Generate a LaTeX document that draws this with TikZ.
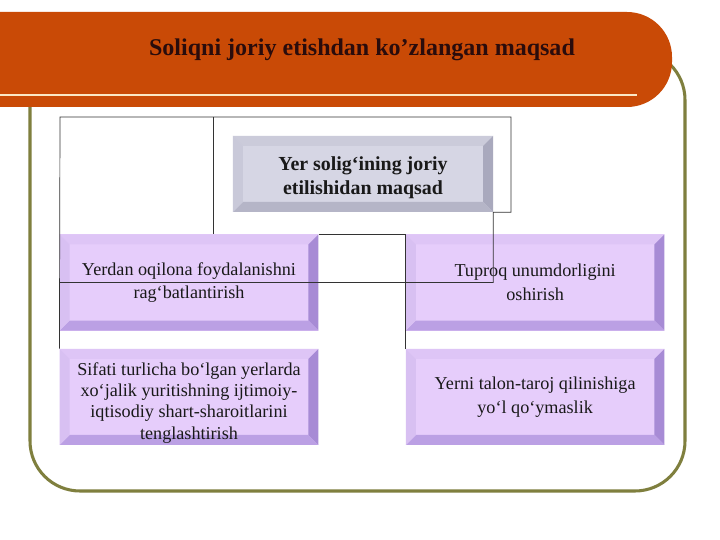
\documentclass[tikz,border=0pt]{standalone}
\usepackage{fontspec}
\setmainfont{Liberation Serif}
\usetikzlibrary{positioning}

\definecolor{bannerc}{HTML}{C94A06}
\definecolor{creamc}{HTML}{FBE8C6}
\definecolor{framec}{HTML}{7F7F3E}
\definecolor{titlec}{HTML}{2A0C0C}
\definecolor{linkc}{HTML}{333333}
% lavender boxes
\definecolor{lavin}{HTML}{E6CDFB}
\definecolor{lavt}{HTML}{DEC5F6}
\definecolor{lavr}{HTML}{A78BD5}
\definecolor{lavb}{HTML}{BBA0E4}
\definecolor{lavl}{HTML}{D8C0F2}
% grey box
\definecolor{grin}{HTML}{D6D6E4}
\definecolor{grt}{HTML}{CBCBDA}
\definecolor{grr}{HTML}{A9A9BD}
\definecolor{grb}{HTML}{B5B5C7}
\definecolor{grl}{HTML}{C9C9D9}

\tikzset{
  bevelbox/.style={
    fill=#1in, inner sep=0pt, align=center, text=black!90,
    path picture={
      \path (path picture bounding box.north west) coordinate (o1);
      \path (path picture bounding box.north east) coordinate (o2);
      \path (path picture bounding box.south east) coordinate (o3);
      \path (path picture bounding box.south west) coordinate (o4);
      \path ([shift={(0.3cm,-0.3cm)}]o1) coordinate (i1);
      \path ([shift={(-0.3cm,-0.3cm)}]o2) coordinate (i2);
      \path ([shift={(-0.3cm,0.3cm)}]o3) coordinate (i3);
      \path ([shift={(0.3cm,0.3cm)}]o4) coordinate (i4);
      \fill[#1t] (o1) -- (o2) -- (i2) -- (i1) -- cycle;
      \fill[#1r] (o2) -- (o3) -- (i3) -- (i2) -- cycle;
      \fill[#1b] (o3) -- (o4) -- (i4) -- (i3) -- cycle;
      \fill[#1l] (o4) -- (o1) -- (i1) -- (i4) -- cycle;
    }},
  aimbox/.style={bevelbox=lav, minimum width=7.76cm, minimum height=2.88cm,
    font=\fontsize{15.5}{20}\selectfont},
  link/.style={draw=linkc, line width=0.6pt}
}

\begin{document}
\begin{tikzpicture}[x=0.03cm,y=-0.03cm]
  \useasboundingbox[fill=white] (0,0) rectangle (720,540);

  % frame and banner
  \draw[framec, line width=2.6pt, rounded corners=1.5cm] (30,50) rectangle (685,491);
  \fill[bannerc] (0,12) -- (627,12) arc[start angle=270, end angle=360, radius=45]
    -- (672,62) arc[start angle=0, end angle=90, radius=45] -- (0,107) -- cycle;
  \draw[creamc, line width=2.4pt] (0,95) -- (637,95);
  \node[font=\fontsize{20.5}{24}\selectfont\bfseries, text=titlec] (head) at (362,50)
    {Soliqni joriy etishdan ko’zlangan maqsad};

  % boxes
  \node[bevelbox=gr, minimum width=7.8cm, minimum height=2.28cm,
    font=\fontsize{17}{20.5}\selectfont\bfseries] (goal) at (363,174)
    {\rule{0pt}{18.5pt}Yer solig‘ining joriy\\ etilishidan maqsad};
  \node[aimbox] (b1) at (189,282.5) {Yerdan oqilona foydalanishni\\rag‘batlantirish};
  \node[aimbox, right=2.61cm of b1] (b2) {Tuproq unumdorligini\\oshirish};
  \node[aimbox, below=0.54cm of b1, font=\fontsize{15.5}{18.2}\selectfont] (b3)
    {\rule{0pt}{20.5pt}Sifati turlicha bo‘lgan yerlarda\\xo‘jalik yuritishning ijtimoiy-\\iqtisodiy shart-sharoitlarini\\tenglashtirish};
  \node[aimbox, below=0.54cm of b2] (b4) {Yerni talon-taroj qilinishiga\\yo‘l qo‘ymaslik};

  % connectors
  \coordinate (tl) at (60,117);
  \coordinate (tr) at (511,117);
  \coordinate (split) at (213,117);
  \draw[link] (b3.north west) -- (tl) -- (tr) -- (tr |- goal.south) -- (goal.south east)
    -- (goal.south east |- b1.east) -- (b1.west);
  \draw[link] (split) -- (split |- b1.north);
  \draw[link] (b1.north east) -- (b2.north west) -- (b4.north west);
\end{tikzpicture}
\end{document}
